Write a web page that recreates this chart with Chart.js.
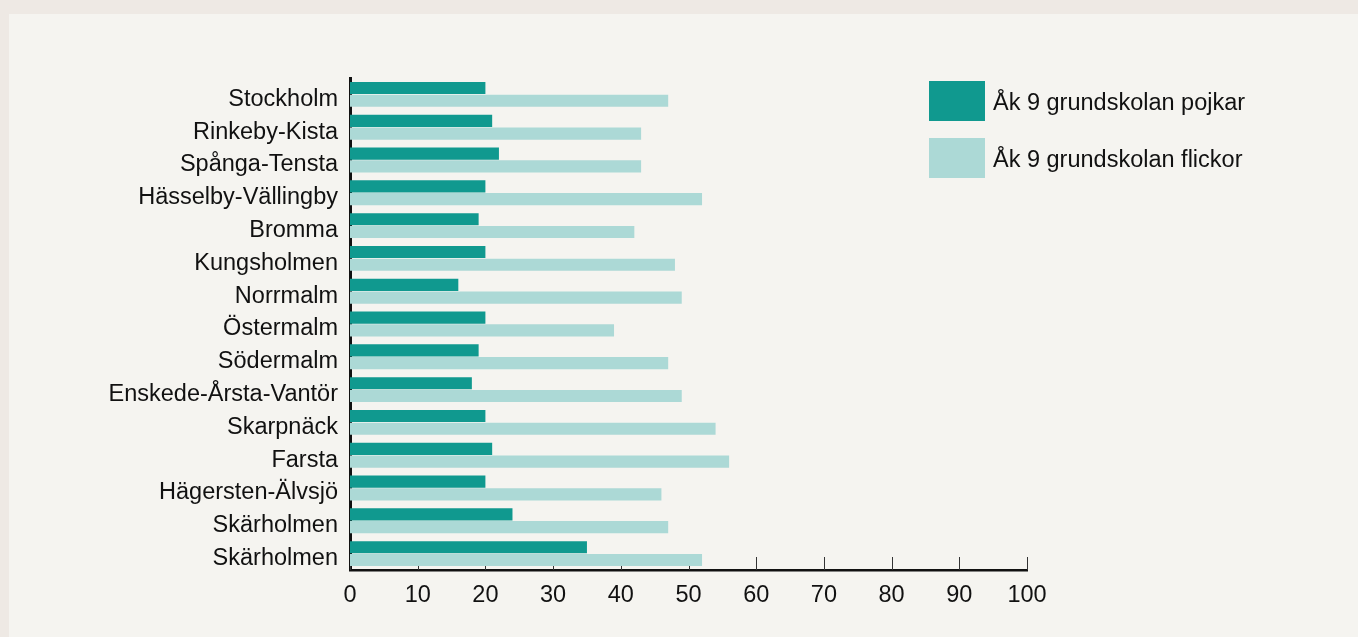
<!DOCTYPE html>
<html>
<head>
<meta charset="utf-8">
<script src="https://cdn.jsdelivr.net/npm/chart.js@4"></script>
<style>
body {
    margin: 0;
    background: #EEE9E4;
    font-family: "Liberation Sans", Arial, sans-serif;
}
#panel {
    position: absolute;
    left: 9px;
    top: 14px;
    width: 1349px;
    height: 623px;
    background: #F5F4F0;
}
#legend {
    position: absolute;
    left: 920px;
    top: 67px;
}
.item {
    display: flex;
    align-items: center;
    height: 40px;
    margin-bottom: 17px;
    font-size: 23.5px;
    color: #111;
}
.item span {
    position: relative;
    top: 1px;
}
.box {
    width: 56px;
    height: 40px;
    margin-right: 8px;
}
</style>
</head>
<body>
<div id="panel">
    <canvas id="chart"></canvas>
    <div id="legend"></div>
</div>
<script>
const districts = [
    "Stockholm", "Rinkeby-Kista", "Spånga-Tensta", "Hässelby-Vällingby",
    "Bromma", "Kungsholmen", "Norrmalm", "Östermalm", "Södermalm",
    "Enskede-Årsta-Vantör", "Skarpnäck", "Farsta", "Hägersten-Älvsjö",
    "Skärholmen", "Skärholmen"
];

const boys = [20, 21, 22, 20, 19, 20, 16, 20, 19, 18, 20, 21, 20, 24, 35];

const girls = [47, 43, 43, 52, 42, 48, 49, 39, 47, 49, 54, 56, 46, 47, 52];

const seriesLabels = ["Åk 9 grundskolan pojkar", "Åk 9 grundskolan flickor"];

const seriesColors = ["#10998F", "#ACD9D6"];

const xTicks = [0, 10, 20, 30, 40, 50, 60, 70, 80, 90, 100];

// small tick marks that point up into the plot from the x axis
const innerTicks = {
    id: "innerTicks",
    beforeDatasetsDraw(chart) {
        const ctx = chart.ctx;
        const x = chart.scales.x;
        const bottom = chart.chartArea.bottom;
        ctx.save();
        ctx.strokeStyle = "#333";
        ctx.lineWidth = 1;
        xTicks.forEach(v => {
            const px = Math.round(x.getPixelForValue(v)) + 0.5;
            ctx.beginPath();
            ctx.moveTo(px, bottom);
            ctx.lineTo(px, bottom - 13);
            ctx.stroke();
        });
        ctx.restore();
    }
};

const font = { family: "'Liberation Sans', Arial, sans-serif", size: 23.5 };

new Chart(
document.getElementById("chart"),
{
    type: "bar",
    data: {
        labels: districts,
        datasets: [{
            label: seriesLabels[0],
            data: boys,
            backgroundColor: seriesColors[0],
            categoryPercentage: 0.78,
            barPercentage: 0.95
        }, {
            label: seriesLabels[1],
            data: girls,
            backgroundColor: seriesColors[1],
            categoryPercentage: 0.78,
            barPercentage: 0.95
        }]
    },
    options: {
        indexAxis: "y",
        responsive: true,
        maintainAspectRatio: false,
        animation: false,
        layout: {
            padding: { top: 64, right: 331, bottom: 17, left: 0 }
        },
        plugins: {
            legend: { display: false },
            tooltip: { enabled: false }
        },
        scales: {
            x: {
                min: 0,
                max: 100,
                afterBuildTicks: scale => {
                    scale.ticks = xTicks.map(v => ({ value: v }));
                },
                afterFit: scale => { scale.height = 50; },
                grid: { display: false, drawTicks: false },
                border: { display: true, color: "#111", width: 2.5 },
                ticks: { color: "#111", font: font, padding: 11, maxRotation: 0 }
            },
            y: {
                afterFit: scale => { scale.width = 341; },
                grid: { display: false, drawTicks: false },
                border: { display: true, color: "#111", width: 3 },
                ticks: { color: "#111", font: font, padding: 12, labelOffset: 5 }
            }
        }
    },
    plugins: [innerTicks]
}
);

const legend = document.getElementById("legend");
seriesLabels.forEach((label, i) => {
    const item = document.createElement("div");
    item.className = "item";
    const box = document.createElement("div");
    box.className = "box";
    box.style.background = seriesColors[i];
    const text = document.createElement("span");
    text.textContent = label;
    item.appendChild(box);
    item.appendChild(text);
    legend.appendChild(item);
});
</script>
</body>
</html>
